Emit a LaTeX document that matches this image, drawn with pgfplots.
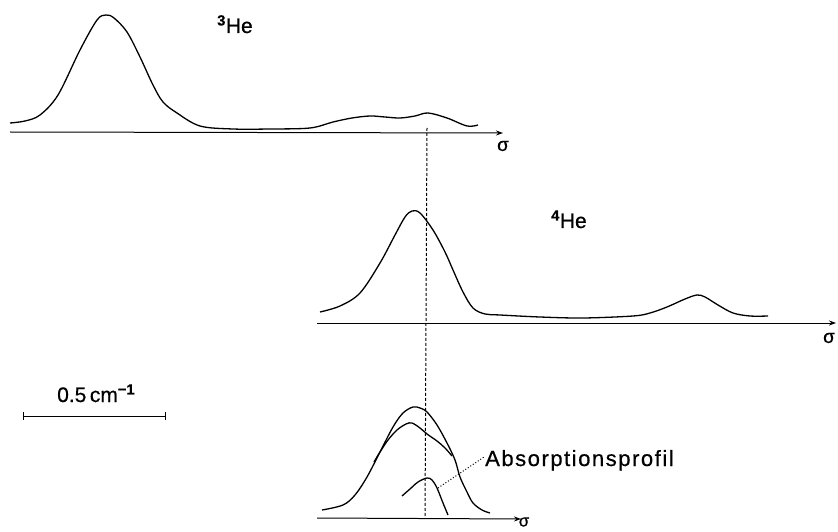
\documentclass[border=0pt]{standalone}
\usepackage{pgfplots}
\pgfplotsset{compat=1.18}
\usepackage{fontspec}
\setmainfont[FakeBold=0.6]{Liberation Sans}
\newfontfamily\spaced[LetterSpace=7, FakeBold=0.6]{Liberation Sans}
\usetikzlibrary{arrows.meta}

\begin{document}
\begin{tikzpicture}
\begin{axis}[
  hide axis, scale only axis, width=838pt, height=532pt,
  xmin=0, xmax=838, ymin=0, ymax=532, y dir=reverse, clip=false,
  every axis plot post/.append style={black, line width=1.3pt, smooth, tension=0.55, mark=none},
]
% 3He spectrum
\addplot coordinates {
 (10,123) (25,121) (40,115) (58,95) (80,50) (97,20) (106,15) (114,18)
 (127,32) (140,57) (153,85) (163,102) (177,113) (200,126) (233,129)
 (270,129) (310,128) (333,122) (352,118) (370,116) (385,117) (400,118)
 (415,116) (428,113) (447,118) (467,126) (478,125)};
% 4He spectrum
\addplot coordinates {
 (320,312) (340,306) (360,293) (380,263) (395,235) (405,217) (412,211)
 (420,213) (433,230) (445,252) (453,270) (463,292) (473,308) (485,314)
 (500,315) (540,317) (583,318) (633,316) (650,313) (667,307) (685,299)
 (697,295) (705,297) (718,305) (733,313) (750,316) (768,316)};
% emission profile and its decomposition
\addplot coordinates {
 (322,510) (343,505) (355,495) (367,477) (380,452) (393,427) (403,413)
 (413,407) (420,408) (427,412) (437,425) (447,443) (455,460) (460,477)
 (467,492) (473,503) (482,510) (490,513)};
\addplot coordinates {
 (374,462) (380,452) (388,440) (397,430) (406,424) (412,423) (420,428)
 (427,434) (437,441) (445,448) (452,456)};
% absorption profile
\addplot coordinates {
 (402,496) (410,489) (418,482) (427,478) (432,480) (437,488) (443,503) (448,515)};

% wavenumber axes
\draw[line width=1pt, -{Stealth[length=7pt,width=5pt]}] (axis cs:10,132) -- (axis cs:503,133);
\draw[line width=1pt, -{Stealth[length=7pt,width=5pt]}] (axis cs:317,323) -- (axis cs:836,323);
\draw[line width=1pt, -{Stealth[length=7pt,width=5pt]}] (axis cs:317,518) -- (axis cs:521,519);
\node[font=\fontsize{19}{19}\selectfont] at (axis cs:503,146) {σ};
\node[font=\fontsize{19}{19}\selectfont] at (axis cs:829,338) {σ};
\node[font=\fontsize{17}{17}\selectfont] at (axis cs:524,522) {σ};

% reference line through the absorption maximum
\draw[line width=1pt, dash pattern=on 3pt off 2pt] (axis cs:427,128) -- (axis cs:425,518);

% labels
\node[anchor=base west, font=\fontsize{21}{21}\selectfont, inner sep=0pt] at (axis cs:217,33) {\textsuperscript{\bfseries 3}He};
\node[anchor=base west, font=\fontsize{21}{21}\selectfont, inner sep=0pt] at (axis cs:551,228) {\textsuperscript{\bfseries 4}He};
\node[anchor=base west, font=\fontsize{21}{21}\selectfont, inner sep=0pt] at (axis cs:57,402) {0.5\,cm\textsuperscript{\bfseries −1}};
\draw[line width=1pt] (axis cs:23,416) -- (axis cs:165,416);
\draw[line width=1pt] (axis cs:23,412) -- (axis cs:23,420);
\draw[line width=1pt] (axis cs:165,412) -- (axis cs:165,420);

\draw[line width=1pt, dotted] (axis cs:438,488) -- (axis cs:484,457);
\node[anchor=base west, font=\spaced\fontsize{22}{22}\selectfont, inner sep=0pt] at (axis cs:485,466) {Absorptionsprofil};
\end{axis}
\pgfresetboundingbox
\path (0,0) rectangle (838pt,532pt);
\end{tikzpicture}
\end{document}
